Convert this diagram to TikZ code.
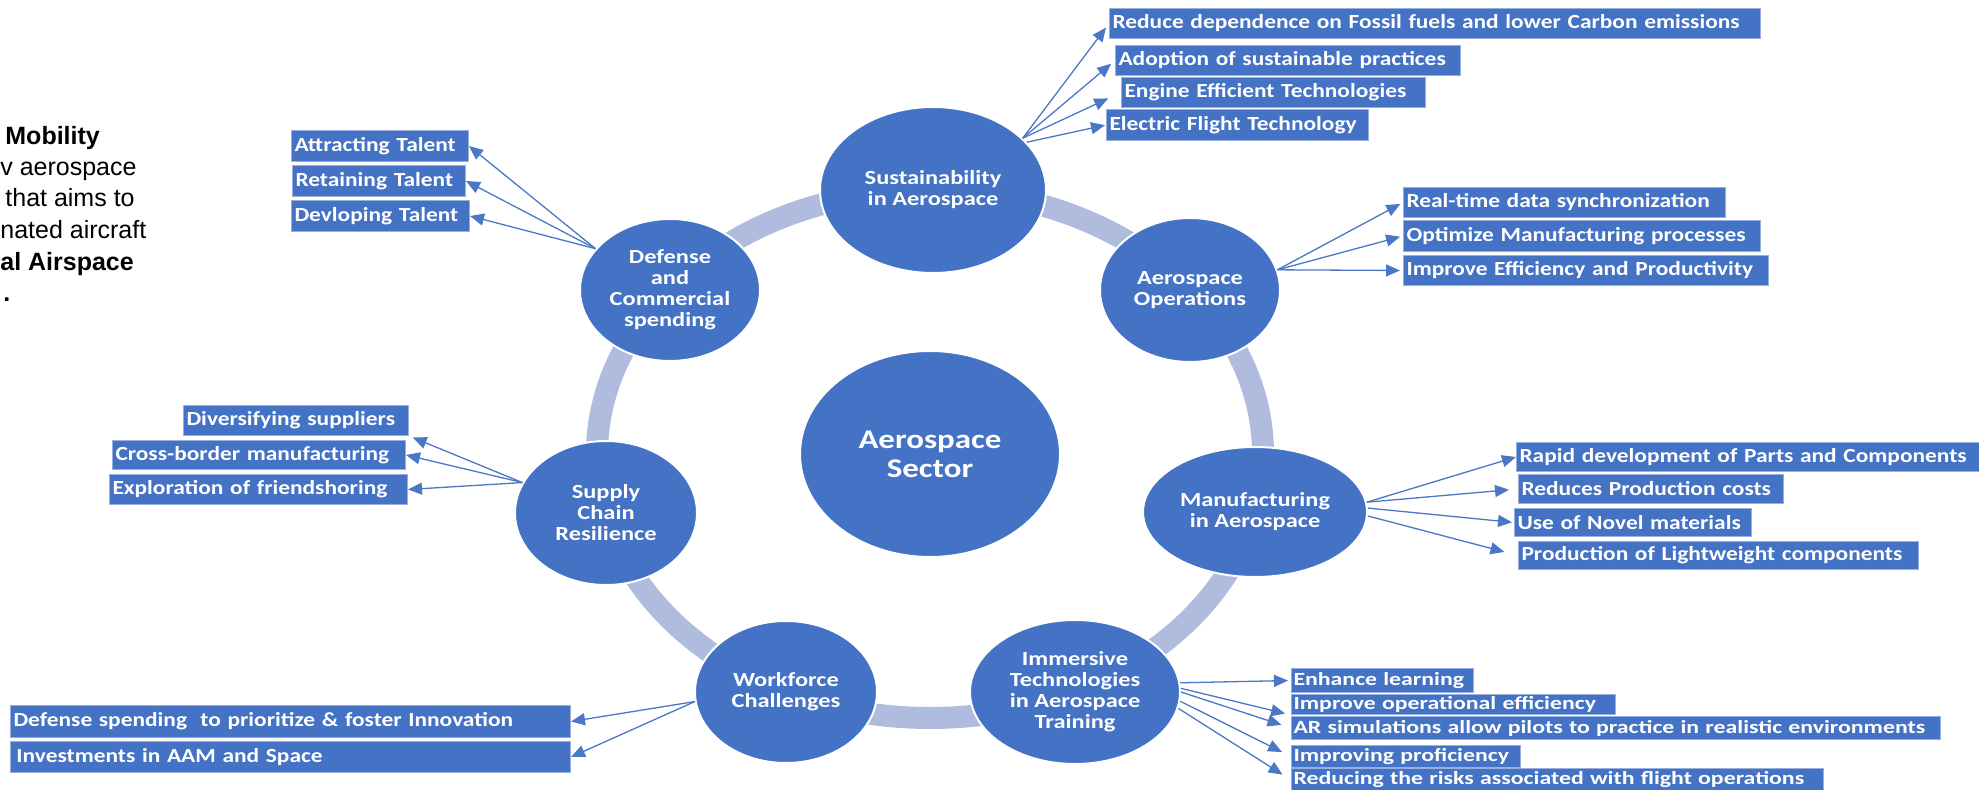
\documentclass[tikz,border=0pt]{standalone}
\usepackage{fontspec}
\usepackage{tikz}
\usetikzlibrary{shapes.geometric,arrows.meta}
\newfontfamily\smartfont[FakeStretch=1.22]{Carlito}
\newfontfamily\tagfont[FakeStretch=1.17]{Carlito}
\newfontfamily\widefont[FakeStretch=1.28]{Carlito}
\newfontfamily\notefont{Liberation Sans}
\newlength{\du}
\setlength{\du}{0.5\unitlength}
\definecolor{hubblue}{rgb}{0.266667, 0.447059, 0.768627}
\definecolor{ringgrey}{rgb}{0.686275, 0.737255, 0.870588}
\definecolor{tagedge}{rgb}{0.600000, 0.690000, 0.870000}
\definecolor{feedblue}{rgb}{0.290000, 0.470000, 0.780000}
\tikzset{
  ring/.style={draw=ringgrey, line width=22\du},
  hub/.style={ellipse, fill=hubblue, draw=white, line width=2\du, text=white,
    align=center, inner sep=0pt, font=\smartfont\bfseries\fontsize{10}{10.5}\selectfont},
  core/.style={hub, font=\smartfont\bfseries\fontsize{13.5}{14.5}\selectfont},
  tagbox/.style={rectangle, anchor=north west, fill=hubblue, draw=tagedge, line width=1\du,
    text=white, inner xsep=3\du, inner ysep=0pt, align=left,
    font=\tagfont\bfseries\fontsize{10}{11}\selectfont},
  smalltag/.style={tagbox, inner xsep=2\du, font=\widefont\bfseries\fontsize{9.3}{9.5}\selectfont},
  feed/.style={draw=feedblue, line width=1.3\du, -{Triangle[length=7pt,width=6pt]}},
  note/.style={anchor=base west, inner sep=0pt, font=\notefont\fontsize{12.5}{15}\selectfont}
}
\begin{document}
\begin{tikzpicture}
\pgftransformxscale{1.000000}
\pgftransformyscale{-1.000000}
\fill[white] (0.000000\du,0.000000\du)--(0.000000\du,790.000000\du)--(1979.000000\du,790.000000\du)--(1979.000000\du,0.000000\du)--cycle;
\useasboundingbox (0.000000\du,0.000000\du) rectangle (1979.000000\du,790.000000\du);
% text cut at the left edge
\node[note] (note1) at (5.000000\du,145.000000\du) {\bfseries Mobility};
\node[note] (note2) at (0.000000\du,176.000000\du) {v aerospace};
\node[note] (note3) at (5.000000\du,207.000000\du) {that aims to};
\node[note] (note4) at (0.000000\du,239.000000\du) {nated aircraft};
\node[note] (note5) at (0.000000\du,271.000000\du) {\bfseries al Airspace};
\node[note] (note6) at (3.000000\du,302.000000\du) {\bfseries .};
% cycle
\node[core, minimum width=260\du, minimum height=206\du] (core) at (930.000000\du,454.000000\du) {Aerospace\\Sector};
\draw[ring] (core.center) ellipse [x radius=333\du, y radius=264\du];
\node[hub, minimum width=226\du, minimum height=166\du] (sus) at (933.000000\du,190.000000\du) {Sustainability\\in Aerospace};
\node[hub, minimum width=180\du, minimum height=144\du] (ops) at (1190.000000\du,290.000000\du) {Aerospace\\Operations};
\node[hub, minimum width=224\du, minimum height=130\du] (man) at (1255.000000\du,512.000000\du) {Manufacturing\\in Aerospace};
\node[hub, minimum width=210\du, minimum height=144\du] (imm) at (1075.000000\du,692.000000\du) {Immersive\\Technologies\\in Aerospace\\Training};
\node[hub, minimum width=182\du, minimum height=142\du] (wrk) at (786.000000\du,692.000000\du) {Workforce\\Challenges};
\node[hub, minimum width=182\du, minimum height=144\du] (sup) at (606.000000\du,513.000000\du) {Supply\\Chain\\Resilience};
\node[hub, minimum width=180\du, minimum height=142\du] (def) at (670.000000\du,290.000000\du) {Defense\\and\\Commercial\\spending};
% boxes
\node[tagbox, text width=645\du, minimum height=30\du] (sus1) at (1109.000000\du,8.000000\du) {Reduce dependence on Fossil fuels and lower Carbon emissions};
\node[tagbox, text width=339\du, minimum height=30\du] (sus2) at (1115.000000\du,45.000000\du) {Adoption of sustainable practices};
\node[tagbox, text width=298\du, minimum height=30\du] (sus3) at (1121.000000\du,77.000000\du) {Engine Efficient Technologies};
\node[tagbox, text width=256\du, minimum height=31\du] (sus4) at (1106.000000\du,109.000000\du) {Electric Flight Technology};
\node[tagbox, text width=316\du, minimum height=30\du] (ops1) at (1403.000000\du,187.000000\du) {Real-time data synchronization};
\node[tagbox, text width=351\du, minimum height=31\du] (ops2) at (1403.000000\du,220.000000\du) {Optimize Manufacturing processes};
\node[tagbox, text width=359\du, minimum height=30\du] (ops3) at (1403.000000\du,255.000000\du) {Improve Efficiency and Productivity};
\node[tagbox, text width=457\du, minimum height=29\du] (man1) at (1516.000000\du,442.000000\du) {Rapid development of Parts and Components};
\node[tagbox, text width=259\du, minimum height=29\du] (man2) at (1518.000000\du,474.000000\du) {Reduces Production costs};
\node[tagbox, text width=231\du, minimum height=28\du] (man3) at (1514.000000\du,508.000000\du) {Use of Novel materials};
\node[tagbox, text width=394\du, minimum height=28\du] (man4) at (1518.000000\du,541.000000\du) {Production of Lightweight components};
\node[smalltag, text width=178\du, minimum height=24\du] (imm1) at (1291.000000\du,668.000000\du) {Enhance learning};
\node[smalltag, text width=320\du, minimum height=20\du] (imm2) at (1291.000000\du,694.000000\du) {Improve operational efficiency};
\node[smalltag, text width=645\du, minimum height=23\du] (imm3) at (1291.000000\du,716.000000\du) {AR simulations allow pilots to practice in realistic environments};
\node[smalltag, text width=225\du, minimum height=22\du] (imm4) at (1291.000000\du,745.000000\du) {Improving proficiency};
\node[smalltag, text width=528\du, minimum height=23\du] (imm5) at (1291.000000\du,768.000000\du) {Reducing the risks associated with flight operations};
\node[tagbox, text width=554\du, minimum height=32\du] (wrk1) at (10.000000\du,705.000000\du) {Defense spending~ to prioritize \& foster Innovation};
\node[tagbox, text width=554\du, minimum height=31\du] (wrk2) at (10.000000\du,741.000000\du) {\hspace{3\du}Investments in AAM and Space};
\node[tagbox, text width=219\du, minimum height=30\du] (sup1) at (183.000000\du,405.000000\du) {Diversifying suppliers};
\node[tagbox, text width=287\du, minimum height=29\du] (sup2) at (112.000000\du,440.000000\du) {Cross-border manufacturing};
\node[tagbox, text width=292\du, minimum height=30\du] (sup3) at (109.000000\du,474.000000\du) {Exploration of friendshoring};
\node[tagbox, text width=171\du, minimum height=31\du] (def1) at (291.000000\du,130.000000\du) {Attracting Talent};
\node[tagbox, text width=167\du, minimum height=31\du] (def2) at (292.000000\du,165.000000\du) {Retaining Talent};
\node[tagbox, text width=172\du, minimum height=31\du] (def3) at (291.000000\du,200.000000\du) {Devloping Talent};
% arrows
\draw[feed, shorten >=2.5pt] (sus.30) -- (sus1.west);
\draw[feed, shorten >=2.5pt] (sus.30) -- (sus2.west);
\draw[feed, shorten >=7pt] (sus.30) -- (sus3.west);
\draw[feed, shorten >=0.5pt] (sus.27) -- (sus4.west);
\draw[feed, shorten >=1.5pt] (ops.13) -- (ops1.west);
\draw[feed, shorten >=1.5pt] (ops.13) -- (ops2.west);
\draw[feed, shorten >=1.5pt] (ops.13) -- (ops3.west);
\draw[feed] (man.5) -- (man1.west);
\draw[feed, shorten >=4.5pt] (man.5) -- (man2.west);
\draw[feed, shorten >=1pt] (man.2) -- (man3.west);
\draw[feed, shorten >=7pt] (man.-2) -- (man4.west);
\draw[feed, shorten >=1.5pt] (imm.5) -- (imm1.west);
\draw[feed, shorten >=3pt] (imm.2) -- (imm2.south west);
\draw[feed, shorten >=5pt] (imm.0) -- (imm3.west);
\draw[feed, shorten >=5pt] (imm.-5) -- (imm4.west);
\draw[feed, shorten >=5pt] (imm.-9) -- (imm5.west);
\draw[feed] (wrk.186) -- (wrk1.east);
\draw[feed] (wrk.186) -- (wrk2.east);
\draw[feed, shorten >=2pt] (sup.160) -- (sup1.south east);
\draw[feed] (sup.160) -- (sup2.east);
\draw[feed] (sup.160) -- (sup3.east);
\draw[feed] (def.151) -- (def1.east);
\draw[feed] (def.151) -- (def2.east);
\draw[feed] (def.151) -- (def3.east);
\end{tikzpicture}
\end{document}
